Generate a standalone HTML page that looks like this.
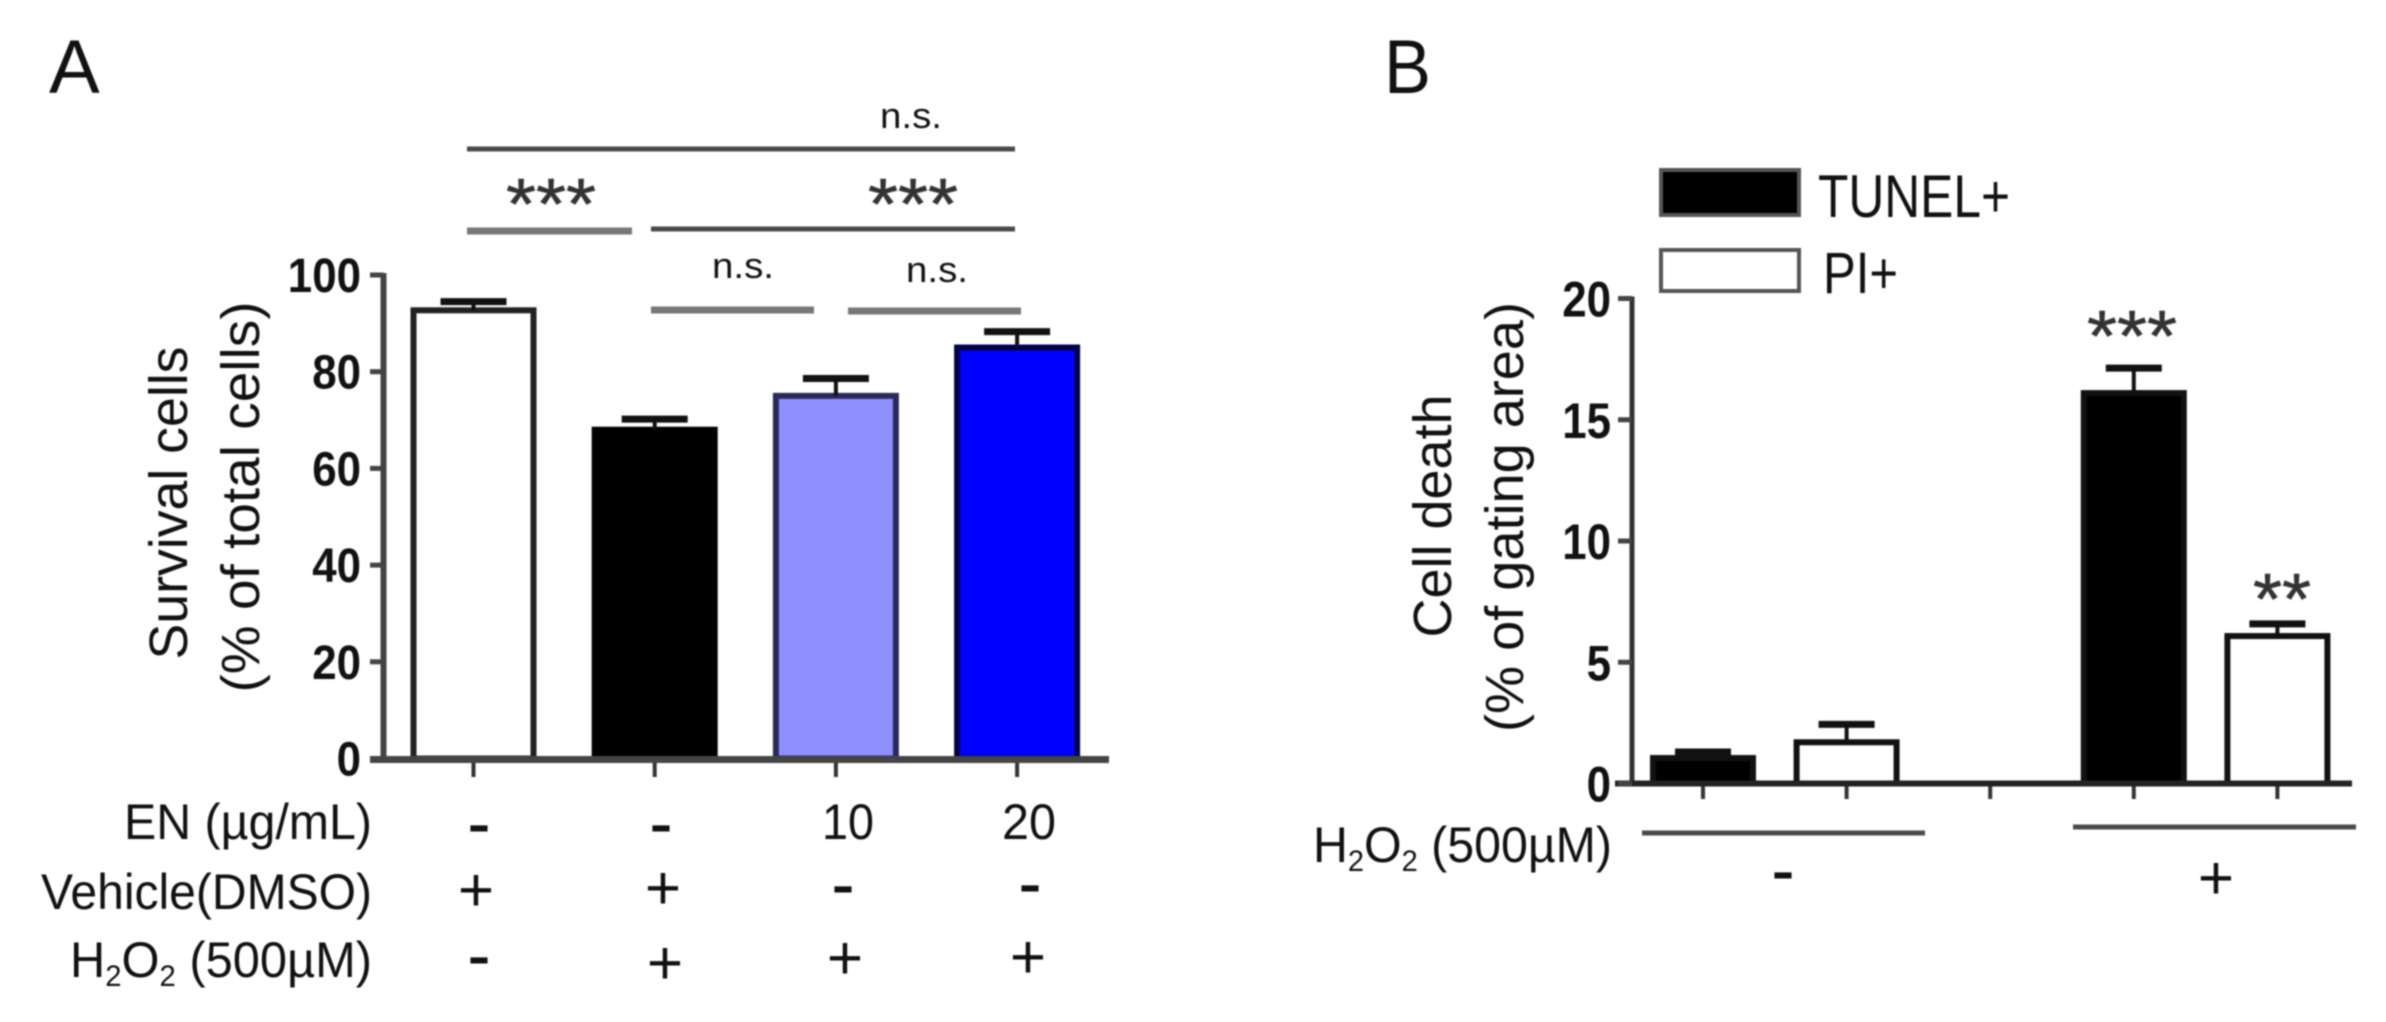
<!DOCTYPE html>
<html lang="en">
<head>
<meta charset="utf-8">
<title>Survival cells and cell death</title>
<style>
html,body{margin:0;padding:0;background:#fff;}
#figure{display:block;width:2386px;height:1022px;filter:blur(0.9px);}
text{font-family:"Liberation Sans",sans-serif;fill:#111;}
.tick{font-weight:bold;}
.dash{stroke:#111;stroke-width:1;}
text.star{fill:#333;stroke:#333;stroke-width:0.6;}
.sig{stroke:#4a4a4a;stroke-width:5;}
.sig2{stroke:#777;stroke-width:7;}
</style>
</head>
<body>
<svg id="figure" xmlns="http://www.w3.org/2000/svg" width="2386" height="1022" viewBox="0 0 2386 1022">
  <rect x="0" y="0" width="2386" height="1022" fill="#fff"/>
  <text x="49" y="93" font-size="76">A</text>
  <text x="1384" y="93" font-size="76" textLength="47" lengthAdjust="spacingAndGlyphs">B</text>

  <text transform="rotate(-90 187 503)" x="187" y="503" text-anchor="middle" font-size="54" textLength="313" lengthAdjust="spacingAndGlyphs">Survival cells</text>
  <text transform="rotate(-90 259 497)" x="259" y="497" text-anchor="middle" font-size="54" textLength="391" lengthAdjust="spacingAndGlyphs">(% of total cells)</text>
  <text transform="rotate(-90 1451 516)" x="1451" y="516" text-anchor="middle" font-size="54" textLength="243" lengthAdjust="spacingAndGlyphs">Cell death</text>
  <text transform="rotate(-90 1523 517)" x="1523" y="517" text-anchor="middle" font-size="54" textLength="430" lengthAdjust="spacingAndGlyphs">(% of gating area)</text>

  <g>
    <line class="sig" x1="467" x2="1015" y1="149" y2="149"/>
    <line class="sig2" x1="467" x2="632" y1="231" y2="231"/>
    <line class="sig" x1="651" x2="1015" y1="229" y2="229"/>
    <line class="sig2" x1="651" x2="814" y1="310" y2="310"/>
    <line class="sig2" x1="848" x2="1021" y1="311" y2="311"/>
    <text x="911" y="128" text-anchor="middle" font-size="36" textLength="62" lengthAdjust="spacingAndGlyphs">n.s.</text>
    <text class="star" x="551" y="229" text-anchor="middle" font-size="72" textLength="90" lengthAdjust="spacingAndGlyphs">***</text>
    <text class="star" x="913" y="229" text-anchor="middle" font-size="72" textLength="90" lengthAdjust="spacingAndGlyphs">***</text>
    <text x="743" y="278" text-anchor="middle" font-size="36" textLength="62" lengthAdjust="spacingAndGlyphs">n.s.</text>
    <text x="937" y="282" text-anchor="middle" font-size="36" textLength="62" lengthAdjust="spacingAndGlyphs">n.s.</text>
  </g>

  <g id="chartA"></g>
  <g id="chartB"></g>

  <g>
    <text x="372" y="839" text-anchor="end" font-size="50" textLength="248" lengthAdjust="spacingAndGlyphs">EN (µg/mL)</text>
    <text x="372" y="909" text-anchor="end" font-size="50" textLength="331" lengthAdjust="spacingAndGlyphs">Vehicle(DMSO)</text>
    <text x="372" y="977" text-anchor="end" font-size="50" textLength="302" lengthAdjust="spacingAndGlyphs">H<tspan font-size="30" dy="9">2</tspan><tspan dy="-9">O</tspan><tspan font-size="30" dy="9">2</tspan><tspan dy="-9"> (500µM)</tspan></text>

    <text class="dash" x="479" y="846" text-anchor="middle" font-size="66">-</text>
    <text class="dash" x="661" y="846" text-anchor="middle" font-size="66">-</text>
    <text x="848" y="839" text-anchor="middle" font-size="50" textLength="52" lengthAdjust="spacingAndGlyphs">10</text>
    <text x="1029" y="839" text-anchor="middle" font-size="50" textLength="54" lengthAdjust="spacingAndGlyphs">20</text>

    <text x="476" y="911" text-anchor="middle" font-size="62">+</text>
    <text x="663" y="909" text-anchor="middle" font-size="62">+</text>
    <text class="dash" x="843" y="907" text-anchor="middle" font-size="66">-</text>
    <text class="dash" x="1030" y="906" text-anchor="middle" font-size="66">-</text>

    <text class="dash" x="479" y="978" text-anchor="middle" font-size="66">-</text>
    <text x="665" y="984" text-anchor="middle" font-size="62">+</text>
    <text x="845" y="979" text-anchor="middle" font-size="62">+</text>
    <text x="1028" y="978" text-anchor="middle" font-size="62">+</text>
  </g>

  <g>
    <rect x="1661" y="170" width="138" height="45" fill="#000" stroke="#555" stroke-width="4"/>
    <text x="1818" y="217" font-size="60" textLength="192" lengthAdjust="spacingAndGlyphs">TUNEL+</text>
    <rect x="1661" y="250" width="138" height="41" fill="#fff" stroke="#555" stroke-width="4"/>
    <text x="1823" y="293" font-size="58" textLength="75" lengthAdjust="spacingAndGlyphs">PI+</text>
  </g>

  <g>
    <text x="1612" y="862" text-anchor="end" font-size="50" textLength="299" lengthAdjust="spacingAndGlyphs">H<tspan font-size="30" dy="9">2</tspan><tspan dy="-9">O</tspan><tspan font-size="30" dy="9">2</tspan><tspan dy="-9"> (500µM)</tspan></text>
    <line class="sig" x1="1642" x2="1925" y1="833" y2="833"/>
    <line class="sig" x1="2073" x2="2356" y1="827" y2="827"/>
    <text class="dash" x="1783" y="893" text-anchor="middle" font-size="66">-</text>
    <text x="2216" y="899" text-anchor="middle" font-size="62">+</text>
  </g>
  <text class="star" x="2132" y="361" text-anchor="middle" font-size="72" textLength="90" lengthAdjust="spacingAndGlyphs">***</text>
  <text class="star" x="2282" y="624" text-anchor="middle" font-size="72" textLength="58" lengthAdjust="spacingAndGlyphs">**</text>
</svg>
<script>
const survivalCategories = ['control', 'h2o2', 'en-10', 'en-20'];
const survivalValues = [92.7, 68, 75, 85];
const survivalErrors = [1.8, 2.2, 3.6, 3.3];
const survivalFills = ['#ffffff', '#000000', '#8f8fff', '#0000ff'];
const survivalStrokes = ['#222222', '#000000', '#2a2a5a', '#00004a'];
const survivalTicks = [0, 20, 40, 60, 80, 100];

const deathCategories = ['tunel-minus', 'pi-minus', 'gap', 'tunel-plus', 'pi-plus'];
const deathValues = [1.05, 1.7, null, 16.1, 6.08];
const deathErrors = [0.25, 0.74, null, 1.03, 0.5];
const deathFills = ['#000000', '#ffffff', null, '#000000', '#ffffff'];
const deathTicks = [0, 5, 10, 15, 20];

const SVGNS = 'http://www.w3.org/2000/svg';

function yA(v) { return 758.5 - v * 4.835; }
function xA(i) { return 473.5 + i * 181.2; }
function yB(v) { return 783.5 - v * 24.25; }
function xB(i) { return 1703 + i * 143.6; }

function make(parent, tag, attrs, content) {
  const el = document.createElementNS(SVGNS, tag);
  Object.keys(attrs).forEach(function (k) { el.setAttribute(k, attrs[k]); });
  if (content !== undefined) el.textContent = content;
  parent.appendChild(el);
  return el;
}

function drawBar(parent, cx, halfW, top, base, capTop, capHalf, fill, stroke, key) {
  const bar = make(parent, 'rect', { x: cx - halfW + 3, y: top, width: 2 * halfW - 6, height: base - top, fill: fill, stroke: stroke, 'stroke-width': 6 });
  
  
  const stem = make(parent, 'line', { x1: cx, x2: cx, y1: top, y2: capTop, stroke: '#111', 'stroke-width': 4 });
  
  
  const cap = make(parent, 'line', { x1: cx - capHalf, x2: cx + capHalf, y1: capTop, y2: capTop, stroke: '#111', 'stroke-width': 7 });
  
  
}

function drawChartA() {
  const g = document.getElementById('chartA');
  survivalCategories.forEach(function (c, i) {
    drawBar(g, xA(i), 63, yA(survivalValues[i]), yA(0), yA(survivalValues[i] + survivalErrors[i]), 33, survivalFills[i], survivalStrokes[i], c);
    const t = make(g, 'line', { x1: xA(i), x2: xA(i), y1: yA(0), y2: 777, stroke: '#333', 'stroke-width': 4 });
    
    
  });
  const yAxis = make(g, 'line', { x1: 383.5, x2: 383.5, y1: yA(100) - 2, y2: yA(0), stroke: '#444', 'stroke-width': 6 });
  
  
  const xAxis = make(g, 'line', { x1: 370, x2: 1109, y1: yA(0) + 1, y2: yA(0) + 1, stroke: '#444', 'stroke-width': 7 });
  
  
  survivalTicks.forEach(function (v) {
    const t = make(g, 'line', { x1: 370, x2: 383.5, y1: yA(v), y2: yA(v), stroke: '#444', 'stroke-width': 5 });
    
    
    const s = String(v);
    const l = make(g, 'text', { x: 361, y: yA(v) + 17, 'text-anchor': 'end', 'font-size': 48, textLength: s.length * 24.4, lengthAdjust: 'spacingAndGlyphs', class: 'tick' }, s);
    
    
  });
}

function drawChartB() {
  const g = document.getElementById('chartB');
  deathCategories.forEach(function (c, i) {
    if (deathValues[i] !== null) {
      drawBar(g, xB(i), 53, yB(deathValues[i]), yB(0), yB(deathValues[i] + deathErrors[i]), 28, deathFills[i], '#111111', c);
    }
    const t = make(g, 'line', { x1: xB(i), x2: xB(i), y1: yB(0), y2: 799, stroke: '#333', 'stroke-width': 4 });
    
    
  });
  const yAxis = make(g, 'line', { x1: 1632, x2: 1632, y1: yB(20) - 2, y2: yB(0), stroke: '#333', 'stroke-width': 5 });
  
  
  const xAxis = make(g, 'line', { x1: 1615, x2: 2352, y1: yB(0), y2: yB(0), stroke: '#222', 'stroke-width': 6 });
  
  
  deathTicks.forEach(function (v) {
    const t = make(g, 'line', { x1: 1618, x2: 1632, y1: yB(v), y2: yB(v), stroke: '#444', 'stroke-width': 5 });
    
    
    const s = String(v);
    const l = make(g, 'text', { x: 1611, y: yB(v) + 18, 'text-anchor': 'end', 'font-size': 50, textLength: s.length * 24.4, lengthAdjust: 'spacingAndGlyphs', class: 'tick' }, s);
    
    
  });
}

drawChartA();
drawChartB();
</script>
</body>
</html>
